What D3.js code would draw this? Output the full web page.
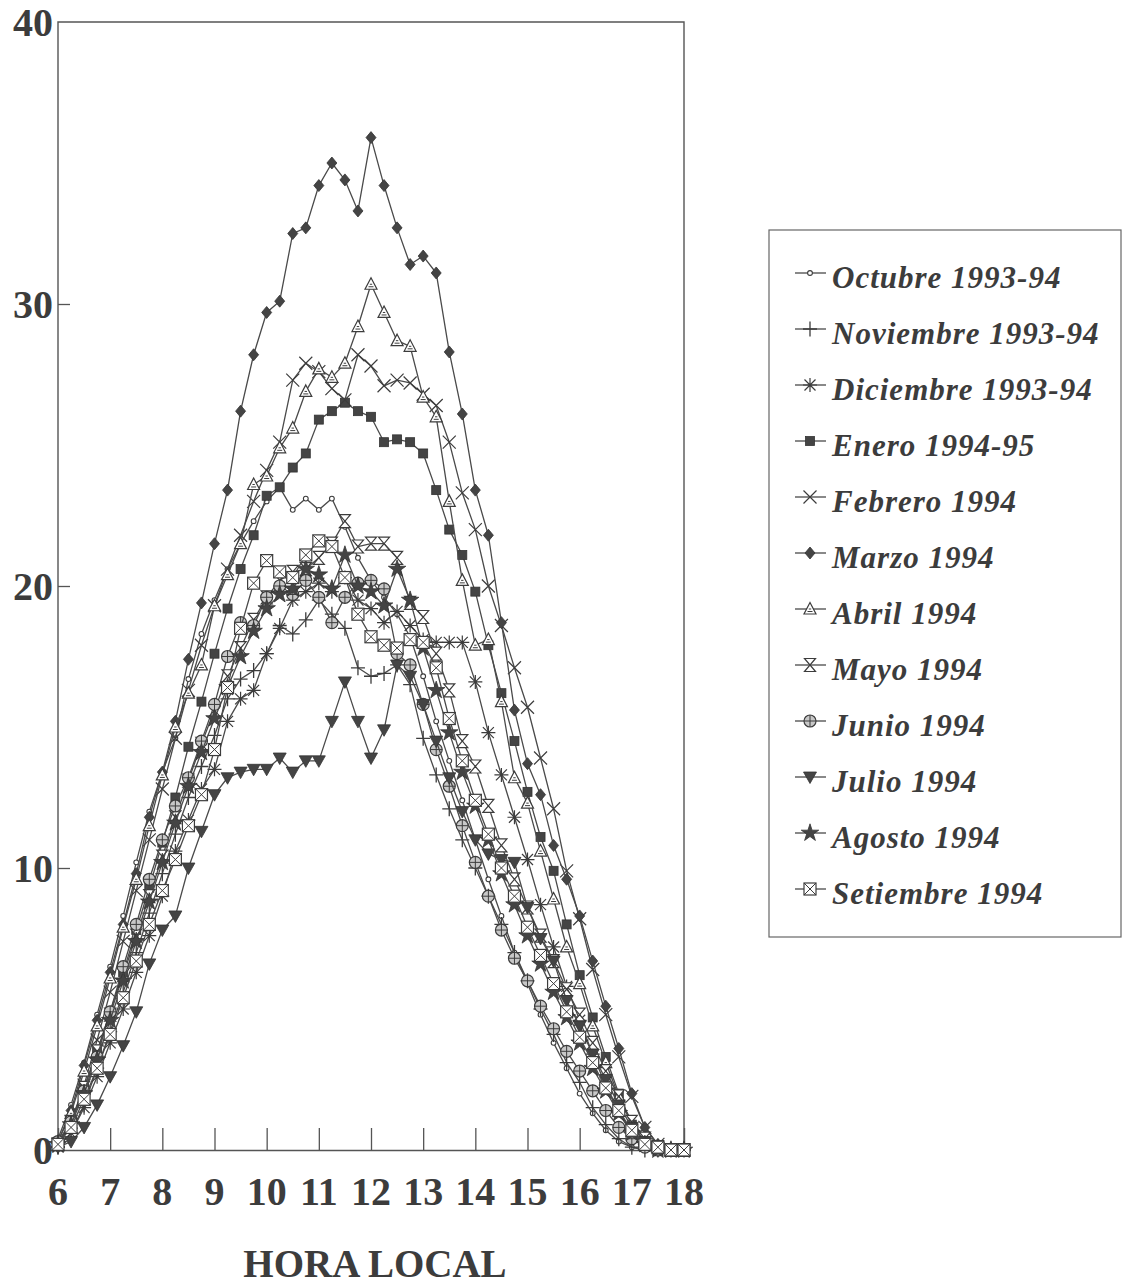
<!DOCTYPE html>
<html>
<head>
<meta charset="utf-8">
<script src="https://cdn.jsdelivr.net/npm/d3@7"></script>
<style>
  html, body { margin: 0; padding: 0; background: #fff; }
  svg { display: block; }
</style>
</head>
<body>
<svg id="chart" width="1126" height="1287"></svg>
<script>
// Hora local, cada 15 minutos de 6:00 a 18:00
const horas = [
  6.00, 6.25, 6.50, 6.75, 7.00, 7.25, 7.50, 7.75, 8.00, 8.25, 8.50, 8.75,
  9.00, 9.25, 9.50, 9.75, 10.00, 10.25, 10.50, 10.75, 11.00, 11.25, 11.50, 11.75,
  12.00, 12.25, 12.50, 12.75, 13.00, 13.25, 13.50, 13.75, 14.00, 14.25, 14.50, 14.75,
  15.00, 15.25, 15.50, 15.75, 16.00, 16.25, 16.50, 16.75, 17.00, 17.25, 17.50, 17.75,
  18.00
];

const etiquetasX = [6, 7, 8, 9, 10, 11, 12, 13, 14, 15, 16, 17, 18];
const etiquetasY = [0, 10, 20, 30, 40];

const octubre = [
  0.4, 1.6, 3.1, 4.8, 6.5, 8.3, 10.2, 12.0, 13.4, 14.6, 16.7, 18.3,
  19.5, 20.6, 21.5, 22.3, 23.0, 23.5, 22.7, 23.1, 22.7, 23.1, 22.1, 21.0,
  20.2, 19.6, 19.0, 18.2, 16.8, 15.2, 13.8, 12.4, 11.0, 9.6, 8.3, 7.0,
  5.9, 4.8, 3.8, 2.9, 2.0, 1.3, 0.7, 0.3, 0.1, 0, 0, 0,
  0
];
const noviembre = [
  0.1, 0.6, 1.6, 2.9, 4.2, 5.6, 7.0, 8.4, 9.8, 11.2, 12.5, 13.6,
  14.7, 16.0, 16.7, 17.0, 17.6, 18.6, 18.3, 18.8, 19.5, 19.0, 18.5, 17.1,
  16.8, 16.9, 17.2, 16.5, 14.6, 13.3, 12.1, 11.0, 10.0, 9.0, 8.0, 7.0,
  6.0, 5.0, 4.1, 3.1, 2.4, 1.5, 0.9, 0.4, 0.1, 0, 0, 0,
  0
];
const diciembre = [
  0.1, 0.6, 1.5, 2.6, 3.8, 5.0, 6.3, 7.6, 9.0, 10.6, 11.7, 12.8,
  13.5, 15.2, 16.0, 16.3, 17.6, 18.5, 19.5, 19.8, 20.1, 19.8, 20.3, 19.5,
  19.2, 18.7, 19.1, 18.6, 18.1, 18.0, 18.0, 18.0, 16.6, 14.8, 13.3, 11.8,
  10.3, 8.7, 7.2, 5.8, 4.6, 3.4, 2.3, 1.4, 0.6, 0.2, 0, 0,
  0
];
const enero = [
  0.2, 1.0, 2.2, 3.5, 4.9, 6.3, 7.8, 9.3, 10.9, 12.5, 14.3, 15.9,
  17.6, 19.2, 20.6, 21.8, 23.2, 23.5, 24.2, 24.7, 25.9, 26.2, 26.5, 26.2,
  26.0, 25.1, 25.2, 25.1, 24.7, 23.4, 22.0, 21.1, 19.8, 17.9, 16.2, 14.5,
  12.7, 11.1, 9.9, 8.0, 6.2, 4.7, 3.3, 2.0, 0.9, 0.3, 0.1, 0,
  0
];
const febrero = [
  0.2, 1.0, 2.3, 3.9, 5.6, 7.4, 9.2, 11.0, 12.8, 14.6, 16.3, 17.9,
  19.3, 20.6, 21.8, 23.0, 24.1, 25.1, 27.3, 27.9, 27.6, 27.0, 26.6, 28.2,
  27.8, 27.1, 27.3, 27.2, 26.8, 26.4, 25.1, 23.3, 22.0, 20.0, 18.6, 17.1,
  15.7, 13.9, 12.1, 9.9, 8.2, 6.4, 4.8, 3.3, 1.9, 0.8, 0.2, 0,
  0
];
const marzo = [
  0.3, 1.4, 3.0, 4.6, 6.3, 8.0, 9.8, 11.8, 13.4, 15.2, 17.4, 19.4,
  21.5, 23.4, 26.2, 28.2, 29.7, 30.1, 32.5, 32.7, 34.2, 35.0, 34.4, 33.3,
  35.9, 34.2, 32.7, 31.4, 31.7, 31.1, 28.3, 26.1, 23.4, 21.8, 18.7, 15.6,
  13.7, 12.6, 10.8, 9.6, 8.3, 6.7, 5.1, 3.6, 2.0, 0.8, 0.2, 0,
  0
];
const abril = [
  0.3, 1.3, 2.8, 4.4, 6.1, 7.9, 9.6, 11.5, 13.3, 15.0, 16.2, 17.2,
  19.3, 20.4, 21.5, 23.6, 23.9, 24.9, 25.6, 26.9, 27.7, 27.4, 27.9, 29.2,
  30.7, 29.7, 28.7, 28.5, 26.7, 26.0, 23.0, 20.2, 17.9, 18.1, 15.9, 13.2,
  12.3, 10.6, 8.9, 7.2, 5.9, 4.4, 3.1, 1.9, 0.9, 0.3, 0.1, 0,
  0
];
const mayo = [
  0.2, 1.0, 2.2, 3.5, 4.8, 6.2, 7.6, 9.0, 10.4, 11.8, 13.1, 14.4,
  15.6, 16.8, 17.8, 18.8, 19.6, 20.2, 20.5, 20.6, 21.0, 21.5, 22.3, 21.4,
  21.5, 21.5, 21.0, 19.4, 18.9, 17.6, 16.3, 14.5, 13.6, 12.2, 10.8, 9.6,
  8.6, 7.6, 6.7, 5.7, 4.8, 3.8, 2.8, 1.9, 1.0, 0.4, 0.1, 0,
  0
];
const junio = [
  0.3, 1.0, 2.1, 3.3, 4.9, 6.5, 8.0, 9.6, 11.0, 12.2, 13.2, 14.5,
  15.8, 17.5, 18.7, 18.6, 19.6, 20.0, 19.7, 20.2, 19.6, 18.7, 19.6, 20.1,
  20.2, 19.9, 17.6, 17.2, 15.8, 14.2, 12.9, 11.5, 10.2, 9.0, 7.8, 6.8,
  6.0, 5.1, 4.3, 3.5, 2.8, 2.1, 1.4, 0.8, 0.4, 0.1, 0, 0,
  0
];
const julio = [
  0.1, 0.3, 0.8, 1.6, 2.6, 3.7, 4.9, 6.6, 7.8, 8.3, 10.0, 11.3,
  12.6, 13.2, 13.4, 13.5, 13.5, 13.9, 13.4, 13.8, 13.8, 15.2, 16.6, 15.2,
  13.9, 14.9, 17.2, 16.8, 15.8, 14.5, 13.2, 12.0, 11.0, 10.5, 10.3, 10.2,
  8.6, 7.5, 6.7, 5.3, 4.4, 3.4, 2.5, 1.6, 0.8, 0.3, 0.1, 0,
  0
];
const agosto = [
  0.2, 0.9, 2.0, 3.2, 4.6, 6.0, 7.4, 8.8, 10.2, 11.6, 12.9, 14.1,
  15.3, 16.4, 17.5, 18.4, 19.2, 19.7, 19.9, 20.6, 20.4, 19.9, 21.1, 20.0,
  19.8, 19.3, 20.6, 19.5, 17.8, 16.3, 14.8, 13.4, 12.2, 11.0, 9.8, 8.7,
  7.6, 6.6, 5.6, 4.7, 3.8, 2.9, 2.1, 1.3, 0.6, 0.2, 0, 0,
  0
];
const setiembre = [
  0.2, 0.8, 1.8, 2.9, 4.1, 5.4, 6.7, 8.0, 9.2, 10.3, 11.5, 12.6,
  14.2, 16.4, 18.5, 20.1, 20.9, 20.5, 20.3, 21.1, 21.6, 21.4, 20.3, 19.0,
  18.2, 17.9, 17.8, 18.1, 18.0, 17.1, 15.3, 13.8, 12.4, 11.2, 10.0, 9.0,
  7.9, 6.9, 5.9, 4.9, 4.0, 3.1, 2.2, 1.4, 0.7, 0.2, 0.1, 0,
  0
];

const nombres = [
  "Octubre 1993-94", "Noviembre 1993-94", "Diciembre 1993-94", "Enero 1994-95",
  "Febrero 1994", "Marzo 1994", "Abril 1994", "Mayo 1994",
  "Junio 1994", "Julio 1994", "Agosto 1994", "Setiembre 1994"
];
const simbolos = [
  "punto", "mas", "asterisco", "cuadrado", "equis", "rombo",
  "triangulo", "reloj", "circulo", "trianguloInv", "estrella", "cajaX"
];
const valores = [
  octubre, noviembre, diciembre, enero, febrero, marzo,
  abril, mayo, junio, julio, agosto, setiembre
];

const series = nombres.map((nombre, i) => ({
  nombre,
  simbolo: simbolos[i],
  puntos: horas.map((h, j) => ({ h, v: valores[i][j] }))
}));

// ---- drawing ----
const tinta = "#3c3c3c";
const linea = "#4a4a4a";
const serif = "'Liberation Serif', 'Times New Roman', serif";

const svg = d3.select("#chart");
svg.append("rect").attr("width", 1126).attr("height", 1287).attr("fill", "#fff");

const x = d3.scaleLinear().domain([6, 18]).range([58, 684]);
const y = d3.scaleLinear().domain([0, 40]).range([1150, 22]);

// frame
const marco = svg.append("g").attr("stroke", "#555").attr("stroke-width", 1.4).attr("fill", "none");
marco.append("path").attr("d", `M${x(6)},${y(0)}V${y(40)}H${x(18)}V${y(0)}`);

// bottom axis with inward ticks
const ejeX = svg.append("g").attr("transform", `translate(0,${y(0)})`)
  .call(d3.axisBottom(x).tickValues(etiquetasX.slice(1, -1)).tickSize(-22).tickFormat(""));
ejeX.select(".domain").attr("stroke", "#555").attr("stroke-width", 1.4);
ejeX.selectAll(".tick line").attr("stroke", "#555").attr("stroke-width", 1.3);

// left axis with short inward ticks
const ejeY = svg.append("g").attr("transform", `translate(${x(6)},0)`)
  .call(d3.axisLeft(y).tickValues(etiquetasY.slice(1, -1)).tickSize(-12).tickFormat(""));
ejeY.select(".domain").remove();
ejeY.selectAll(".tick line").attr("stroke", "#555").attr("stroke-width", 1.3);

// tick labels
svg.append("g").selectAll("text").data(etiquetasX).join("text")
  .attr("x", d => x(d)).attr("y", 1205)
  .attr("text-anchor", "middle")
  .attr("font-family", serif).attr("font-weight", "bold").attr("font-size", 40)
  .attr("fill", tinta)
  .text(d => d);

svg.append("g").selectAll("text").data(etiquetasY).join("text")
  .attr("x", 53).attr("y", d => y(d) + 14)
  .attr("text-anchor", "end")
  .attr("font-family", serif).attr("font-weight", "bold").attr("font-size", 40)
  .attr("fill", tinta)
  .text(d => d);

svg.append("text")
  .attr("x", 375).attr("y", 1277)
  .attr("text-anchor", "middle")
  .attr("font-family", serif).attr("font-weight", "bold").attr("font-size", 39)
  .attr("fill", tinta)
  .text("HORA LOCAL");

// marker shapes
function marcador(g, tipo) {
  const trazo = (d, w = 1.2) => g.append("path").attr("d", d).attr("fill", "none")
    .attr("stroke", tinta).attr("stroke-width", w);
  switch (tipo) {
    case "punto":
      g.append("circle").attr("r", 2.4).attr("fill", "#fff").attr("stroke", tinta).attr("stroke-width", 1.1);
      break;
    case "mas":
      trazo("M-7,0H7M0,-7.5V7.5", 1.3);
      break;
    case "asterisco":
      trazo("M0,-7V7M-7,0H7M-5.5,-5.5L5.5,5.5M-5.5,5.5L5.5,-5.5", 1.2);
      break;
    case "cuadrado":
      g.append("rect").attr("x", -4.5).attr("y", -4.5).attr("width", 9).attr("height", 9)
        .attr("fill", "#444").attr("stroke", "#333").attr("stroke-width", 0.8);
      break;
    case "equis":
      trazo("M-6.5,-6.5L6.5,6.5M-6.5,6.5L6.5,-6.5", 1.2);
      break;
    case "rombo":
      g.append("path").attr("d", "M0,-6L5,0L0,6L-5,0Z").attr("fill", "#444").attr("stroke", "#333").attr("stroke-width", 0.8);
      break;
    case "triangulo":
      g.append("path").attr("d", "M0,-6.5L6,5H-6Z").attr("fill", "#fff").attr("stroke", tinta).attr("stroke-width", 1.2);
      trazo("M-2.5,2.5H2.5M-1.2,0H1.2", 1);
      break;
    case "reloj":
      g.append("path").attr("d", "M-5.5,-6.5H5.5L0,0L5.5,6.5H-5.5L0,0Z").attr("fill", "#fff")
        .attr("stroke", tinta).attr("stroke-width", 1.2);
      break;
    case "circulo":
      g.append("circle").attr("r", 6).attr("fill", "#c8c8c8").attr("stroke", tinta).attr("stroke-width", 1.2);
      trazo("M-6,0H6M0,-6V6", 1);
      break;
    case "trianguloInv":
      g.append("path").attr("d", "M-6.5,-5H6.5L0,6.5Z").attr("fill", "#444").attr("stroke", "#333").attr("stroke-width", 0.8);
      break;
    case "estrella":
      g.append("path").attr("d", d3.symbol(d3.symbolStar, 95)()).attr("fill", "#444")
        .attr("stroke", "#333").attr("stroke-width", 0.8);
      break;
    case "cajaX":
      g.append("rect").attr("x", -6).attr("y", -6).attr("width", 12).attr("height", 12)
        .attr("fill", "#fff").attr("stroke", tinta).attr("stroke-width", 1.2);
      trazo("M-6,-6L6,6M-6,6L6,-6", 1);
      break;
  }
}

const trazado = d3.line().x(d => x(d.h)).y(d => y(d.v));

const capa = svg.append("g");
series.forEach(s => {
  const g = capa.append("g");
  g.append("path").attr("d", trazado(s.puntos))
    .attr("fill", "none").attr("stroke", linea).attr("stroke-width", 1.3)
    .attr("stroke-linejoin", "round");
  g.selectAll("g.m").data(s.puntos).join("g").attr("class", "m")
    .attr("transform", d => `translate(${x(d.h)},${y(d.v)})`)
    .each(function () { marcador(d3.select(this), s.simbolo); });
});

// legend
const ley = svg.append("g");
ley.append("rect").attr("x", 769).attr("y", 230).attr("width", 352).attr("height", 707)
  .attr("fill", "#fff").attr("stroke", "#666").attr("stroke-width", 1.2);

const filas = ley.selectAll("g.fila").data(series).join("g").attr("class", "fila")
  .attr("transform", (d, i) => `translate(0,${278 + i * 56})`);
filas.append("path").attr("d", "M795,-5H826").attr("stroke", linea).attr("stroke-width", 1.3);
filas.append("g").attr("transform", "translate(810,-5)")
  .each(function (d) { marcador(d3.select(this), d.simbolo); });
filas.append("text")
  .attr("x", 832).attr("y", 10)
  .attr("font-family", serif).attr("font-weight", "bold").attr("font-style", "italic")
  .attr("font-size", 31).attr("letter-spacing", 1)
  .attr("fill", tinta)
  .text(d => d.nombre);
</script>
</body>
</html>
